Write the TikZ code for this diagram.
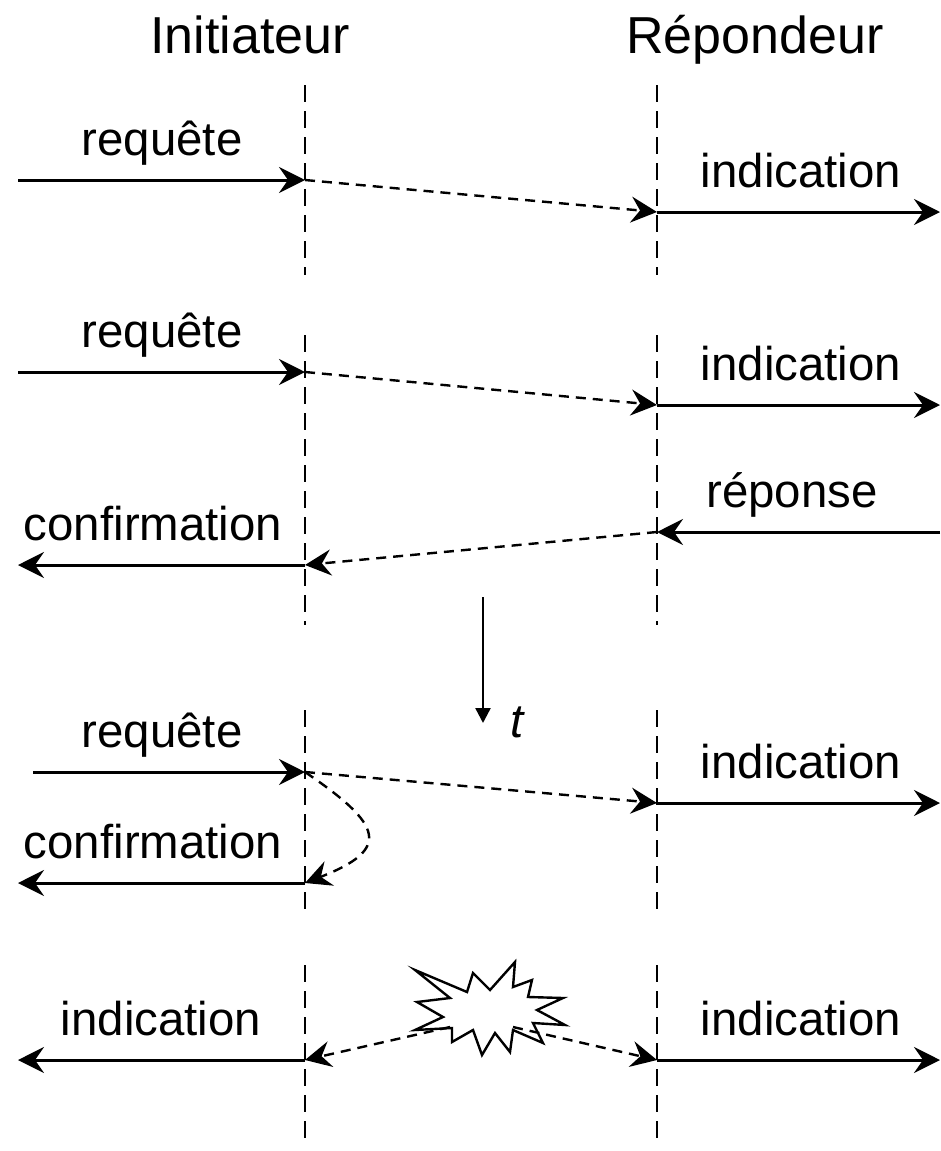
\documentclass[tikz,border=0pt]{standalone}
\usepackage{fontspec}
\setmainfont{Liberation Sans}
\usetikzlibrary{arrows.meta,positioning}

\begin{document}
\begin{tikzpicture}[x=0.5pt, y=-0.5pt,
        lifeline/.style={line width=1.2pt, dash pattern=on 8.5pt off 4.5pt},
        prim/.style={line width=1.5pt, -{Stealth[length=13pt,width=13pt,inset=4.5pt]}},
        msg/.style={line width=1.2pt, dash pattern=on 5pt off 3.5pt, -{Stealth[length=13pt,width=13pt,inset=4.5pt]}},
        lbl/.style={font=\fontsize{23.7}{28}\selectfont, inner sep=0pt, anchor=base},
        role/.style={font=\fontsize{26}{31}\selectfont, inner sep=0pt, anchor=base}]
    \useasboundingbox (0,0) rectangle (941,1151);

    % roles
    \node[role] (init) at (250,54) {Initiateur};
    \node[role] (resp) at (755,54) {Répondeur};

    % lifelines
    \foreach \top/\bot [count=\k] in {85/275, 335/625, 710/915, 965/1143} {
        \coordinate (it\k) at (305,\top);
        \coordinate (ib\k) at (305,\bot);
        \coordinate (rt\k) at (657,\top);
        \coordinate (rb\k) at (657,\bot);
        \draw[lifeline] (it\k) -- (ib\k);
        \draw[lifeline] (rt\k) -- (rb\k);
    }

    % unconfirmed service
    \coordinate (a1) at (18,180);  \coordinate (i1) at (305,180);
    \coordinate (r1) at (657,212); \coordinate (b1) at (940,212);
    \draw[prim] (a1) -- (i1);
    \draw[msg] (i1) -- (r1);
    \draw[prim] (r1) -- (b1);
    \node[lbl] (req1) at (162,155) {requête};
    \node[lbl] (ind1) at (801,187) {indication};

    % confirmed service
    \coordinate (a2) at (18,372);  \coordinate (i2) at (305,372);
    \coordinate (r2) at (657,405); \coordinate (b2) at (940,405);
    \coordinate (b3) at (940,532); \coordinate (r3) at (657,532);
    \coordinate (i3) at (305,565); \coordinate (a3) at (18,565);
    \draw[prim] (a2) -- (i2);
    \draw[msg] (i2) -- (r2);
    \draw[prim] (r2) -- (b2);
    \draw[prim] (b3) -- (r3);
    \draw[msg] (r3) -- (i3);
    \draw[prim] (i3) -- (a3);
    \node[lbl] (req2) at (162,347) {requête};
    \node[lbl] (ind2) at (801,380) {indication};
    \node[lbl] (rep) at (792,507) {réponse};
    \node[lbl] (conf1) at (153,540) {confirmation};

    % time
    \coordinate (t0) at (483,597); \coordinate (t1) at (483,723);
    \draw[line width=1.2pt, -{Triangle[length=7.5pt,width=7.5pt]}] (t0) -- (t1);
    \node[lbl, font=\fontsize{23.7}{28}\selectfont\itshape] (tlbl) at (517,737) {t};

    % locally confirmed service
    \coordinate (a4) at (33,772);  \coordinate (i4) at (305,772);
    \coordinate (r4) at (657,803); \coordinate (b4) at (940,803);
    \coordinate (i5) at (305,883); \coordinate (a5) at (18,883);
    \draw[prim] (a4) -- (i4);
    \draw[msg] (i4) -- (r4);
    \draw[prim] (r4) -- (b4);
    \draw[msg] (i4) .. controls (383,825) and (392,849) .. (i5);
    \draw[prim] (i5) -- (a5);
    \node[lbl] (req3) at (162,747) {requête};
    \node[lbl] (ind3) at (801,778) {indication};
    \node[lbl] (conf2) at (153,858) {confirmation};

    % provider initiated
    \draw[line width=1.2pt, line join=miter, fill=white]
        (415,970) -- (467,992) -- (473,973) -- (490,990) -- (515,962) -- (513,987)
        -- (532,980) -- (528,997) -- (563,998) -- (537,1010) -- (565,1025) -- (533,1023)
        -- (543,1043) -- (513,1030) -- (510,1052) -- (495,1033) -- (482,1055) -- (473,1030)
        -- (452,1042) -- (452,1028) -- (415,1030) -- (443,1017) -- (417,1002) -- (450,998) -- cycle;
    \coordinate (s1) at (450,1027); \coordinate (s2) at (513,1027);
    \coordinate (i6) at (305,1060); \coordinate (a6) at (18,1060);
    \coordinate (r6) at (657,1060); \coordinate (b6) at (940,1060);
    \draw[msg] (s1) -- (i6);
    \draw[msg] (s2) -- (r6);
    \draw[prim] (i6) -- (a6);
    \draw[prim] (r6) -- (b6);
    \node[lbl] (ind4) at (161,1035) {indication};
    \node[lbl] (ind5) at (801,1035) {indication};
\end{tikzpicture}
\end{document}
